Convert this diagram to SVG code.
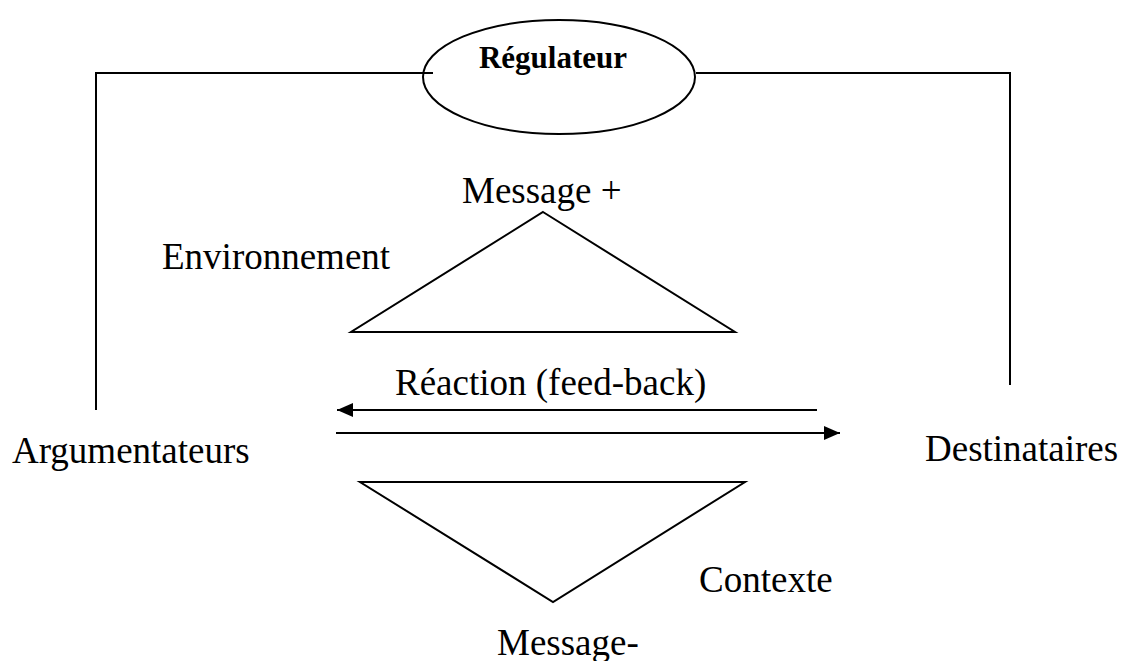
<svg xmlns="http://www.w3.org/2000/svg" width="1123" height="661" viewBox="0 0 1123 661">
  <style>
    .lbl { font-family: "Liberation Serif", "Times New Roman", serif; font-size: 37px; fill: #000; }
    .bold { font-weight: bold; font-size: 31px; }
    .ln { fill: none; stroke: #000; stroke-width: 2; }
  </style>
  <defs>
    <marker id="head" viewBox="0 0 16 14" refX="16" refY="7" markerWidth="16" markerHeight="14" markerUnits="userSpaceOnUse" orient="auto">
      <path d="M0,0 L16,7 L0,14 Z" fill="#000"/>
    </marker>
  </defs>
  <rect width="1123" height="661" fill="#fff"/>

  <g id="connectors">
    <polyline class="ln" points="96,410 96,73 433,73"/>
    <polyline class="ln" points="696,73 1010,73 1010,385"/>
    <line class="ln" x1="817" y1="410" x2="337" y2="410" marker-end="url(#head)"/>
    <line class="ln" x1="336" y1="433" x2="840" y2="433" marker-end="url(#head)"/>
  </g>

  <g id="regulateur">
    <ellipse class="ln" cx="559" cy="77" rx="136" ry="57"/>
    <text class="lbl bold" x="553" y="68" text-anchor="middle">Régulateur</text>
  </g>

  <g id="message-plus">
    <polygon class="ln" points="543,212 735,332 351,332"/>
    <text class="lbl" x="462" y="203">Message +</text>
  </g>

  <g id="environnement">
    <text class="lbl" x="162" y="269">Environnement</text>
  </g>

  <g id="reaction">
    <text class="lbl" x="395" y="395">Réaction (feed-back)</text>
  </g>

  <g id="argumentateurs">
    <text class="lbl" x="12" y="463">Argumentateurs</text>
  </g>

  <g id="destinataires">
    <text class="lbl" x="925" y="461">Destinataires</text>
  </g>

  <g id="message-minus">
    <polygon class="ln" points="360,482 745,482 553,602"/>
    <text class="lbl" x="497" y="655">Message-</text>
  </g>

  <g id="contexte">
    <text class="lbl" x="699" y="592">Contexte</text>
  </g>
</svg>
